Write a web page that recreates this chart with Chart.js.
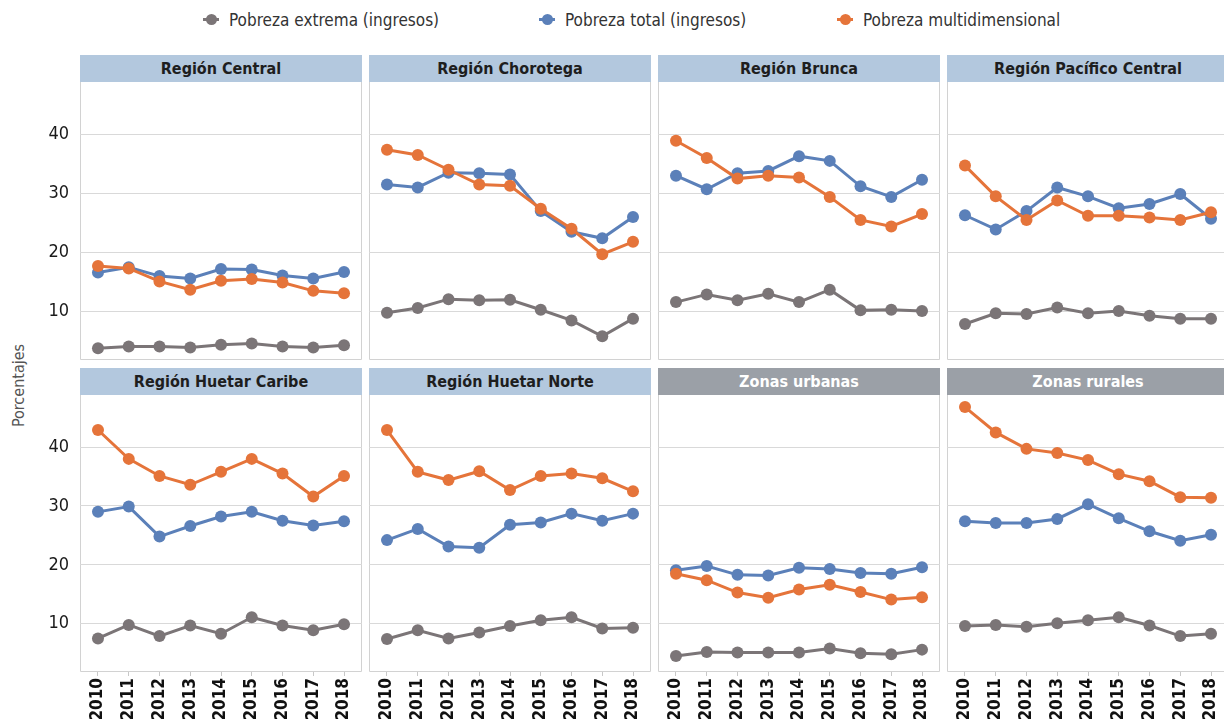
<!DOCTYPE html>
<html>
<head>
<meta charset="utf-8">
<script src="https://cdn.jsdelivr.net/npm/chart.js@4.4.1/dist/chart.umd.min.js"></script>
<style>
body{margin:0;background:#fff;width:1224px;height:719px;overflow:hidden;position:relative;
  font-family:"Liberation Sans Narrow","DejaVu Sans Condensed",sans-serif;}
.item{position:absolute;top:8px;font-size:17px;color:#333;white-space:nowrap;line-height:24px}
.mk{position:absolute;left:-26px;top:10px;width:16px;height:3px}
.mk i{position:absolute;left:3px;top:-4px;width:11px;height:11px;border-radius:50%;background:inherit}
.hdr{position:absolute;width:282px;height:27px;line-height:27px;text-align:center;font-weight:bold;font-size:16px;color:#1e1e1e}
.box{position:absolute;overflow:hidden}
.box canvas{display:block}
#ytitle{position:absolute;left:-27px;top:376px;width:90px;text-align:center;font-size:16px;color:#555;transform:rotate(-90deg)}
</style>
</head>
<body>
<div id="leyenda"></div>
<div id="ytitle">Porcentajes</div>
<div id="paneles"></div>
<script>
// datos
var years = [2010, 2011, 2012, 2013, 2014, 2015, 2016, 2017, 2018];
var panelNames = ["Región Central", "Región Chorotega", "Región Brunca", "Región Pacífico Central",
                  "Región Huetar Caribe", "Región Huetar Norte", "Zonas urbanas", "Zonas rurales"];
var seriesNames = ["Pobreza extrema (ingresos)", "Pobreza total (ingresos)", "Pobreza multidimensional"];
var seriesColors = ["#7b7577", "#5b80b9", "#e5743a"];
var yTicks = [10, 20, 30, 40];

// una fila por panel, en el mismo orden que panelNames
var pobrezaExtrema = [
  [3.8, 4.1, 4.1, 3.9, 4.4, 4.6, 4.1, 3.9, 4.3],
  [9.8, 10.6, 12.1, 11.9, 12.0, 10.3, 8.5, 5.8, 8.8],
  [11.6, 12.9, 11.9, 13.0, 11.6, 13.7, 10.2, 10.3, 10.1],
  [7.9, 9.7, 9.6, 10.7, 9.7, 10.1, 9.3, 8.8, 8.8],
  [7.5, 9.8, 7.9, 9.7, 8.3, 11.1, 9.7, 8.9, 9.9],
  [7.4, 8.9, 7.5, 8.5, 9.6, 10.6, 11.1, 9.2, 9.3],
  [4.5, 5.2, 5.1, 5.1, 5.1, 5.8, 5.0, 4.8, 5.6],
  [9.6, 9.8, 9.5, 10.1, 10.6, 11.1, 9.7, 7.9, 8.3]
];
var pobrezaTotal = [
  [16.6, 17.5, 16.0, 15.6, 17.2, 17.1, 16.1, 15.6, 16.7],
  [31.5, 31.0, 33.5, 33.4, 33.2, 27.0, 23.5, 22.4, 26.0],
  [33.0, 30.7, 33.4, 33.8, 36.3, 35.5, 31.2, 29.4, 32.3],
  [26.3, 23.9, 27.0, 31.0, 29.5, 27.5, 28.2, 29.9, 25.7],
  [29.0, 29.9, 24.8, 26.6, 28.2, 29.0, 27.5, 26.7, 27.4],
  [24.2, 26.1, 23.1, 22.9, 26.8, 27.2, 28.7, 27.5, 28.7],
  [19.1, 19.8, 18.3, 18.2, 19.5, 19.3, 18.6, 18.5, 19.6],
  [27.4, 27.1, 27.1, 27.8, 30.3, 27.9, 25.7, 24.1, 25.1]
];
var pobrezaMulti = [
  [17.7, 17.3, 15.1, 13.7, 15.2, 15.5, 14.9, 13.5, 13.1],
  [37.4, 36.5, 34.0, 31.5, 31.3, 27.4, 24.0, 19.7, 21.8],
  [38.9, 36.0, 32.5, 33.0, 32.7, 29.4, 25.5, 24.4, 26.5],
  [34.7, 29.5, 25.5, 28.8, 26.2, 26.2, 25.9, 25.5, 26.8],
  [42.9, 38.0, 35.1, 33.6, 35.8, 38.0, 35.5, 31.6, 35.1],
  [42.9, 35.8, 34.4, 35.9, 32.7, 35.1, 35.5, 34.7, 32.5],
  [18.5, 17.4, 15.3, 14.4, 15.8, 16.6, 15.4, 14.1, 14.5],
  [46.8, 42.5, 39.7, 39.0, 37.8, 35.4, 34.2, 31.5, 31.4]
];

var FONT = '"Liberation Sans Narrow","DejaVu Sans Condensed",sans-serif';
var colLeft = [80, 369, 658, 947];
var rowHeader = [55, 368];

// leyenda
var legX = [229, 565, 863];
var leg = document.getElementById('leyenda');
for (var s = 0; s < 3; s++) {
  var it = document.createElement('div');
  it.className = 'item';
  it.style.left = legX[s] + 'px';
  it.innerHTML = '<span class="mk" style="background:' + seriesColors[s] + '"><i></i></span>' + seriesNames[s];
  leg.appendChild(it);
}

// marco gris alrededor del area de trazado
var marco = {
  id: 'marco',
  beforeDraw: function(chart) {
    var a = chart.chartArea, c = chart.ctx;
    c.save();
    c.strokeStyle = '#d2d2d2';
    c.lineWidth = 1;
    c.beginPath();
    c.moveTo(Math.round(a.left) + 0.5, a.top);
    c.lineTo(Math.round(a.left) + 0.5, Math.round(a.bottom) - 0.5);
    c.lineTo(Math.round(a.right) - 0.5, Math.round(a.bottom) - 0.5);
    c.lineTo(Math.round(a.right) - 0.5, a.top);
    c.stroke();
    c.restore();
  }
};

function sinPadding(sc) {
  sc.paddingLeft = 0; sc.paddingRight = 0; sc.paddingTop = 0; sc.paddingBottom = 0;
}

var cont = document.getElementById('paneles');
for (var p = 0; p < 8; p++) {
  var row = Math.floor(p / 4), col = p % 4;
  var zona = p >= 6;

  var h = document.createElement('div');
  h.className = 'hdr';
  h.style.left = colLeft[col] + 'px';
  h.style.top = rowHeader[row] + 'px';
  h.style.background = zona ? '#9ba0a7' : '#b3c8de';
  h.style.color = zona ? '#fff' : '#1e1e1e';
  h.textContent = panelNames[p];
  cont.appendChild(h);

  var w = col === 0 ? 362 : 282;
  var ht = row === 0 ? 278 : 324;
  var box = document.createElement('div');
  box.className = 'box';
  box.style.left = (col === 0 ? 0 : colLeft[col]) + 'px';
  box.style.top = (rowHeader[row] + 27) + 'px';
  box.style.width = w + 'px';
  box.style.height = ht + 'px';
  var cv = document.createElement('canvas');
  cv.width = w; cv.height = ht;
  box.appendChild(cv);
  cont.appendChild(box);

  var sets = [pobrezaExtrema[p], pobrezaTotal[p], pobrezaMulti[p]];
  var datasets = [];
  for (var s = 0; s < 3; s++) {
    datasets.push({
      label: seriesNames[s],
      data: years.map(function(yr, i) { return { x: yr, y: this[i] }; }, sets[s]),
      borderColor: seriesColors[s],
      backgroundColor: seriesColors[s],
      borderWidth: 3,
      pointRadius: 6,
      pointHoverRadius: 6,
      pointBorderWidth: 0,
      order: 2 - s
    });
  }

  new Chart(cv, {
    type: 'line',
    data: { datasets: datasets },
    options: {
      responsive: false,
      animation: false,
      layout: { padding: 0, autoPadding: false },
      plugins: { legend: { display: false }, tooltip: { enabled: false } },
      scales: {
        x: {
          type: 'linear',
          min: 2009.415,
          max: 2018.585,
          display: row === 1,
          afterBuildTicks: function(sc) { sc.ticks = years.map(function(v) { return { value: v }; }); },
          afterFit: (function(r) { return function(sc) { sc.height = r === 1 ? 47 : 0; sinPadding(sc); }; })(row),
          grid: { drawOnChartArea: false, drawTicks: true, tickLength: 4, color: '#c8c8c8' },
          border: { display: false },
          ticks: {
            minRotation: 90, maxRotation: 90, padding: 2, color: '#111',
            font: { family: FONT, size: 17, weight: 'bold' },
            callback: function(v) { return String(v); }
          }
        },
        y: {
          min: 1.8,
          max: 48.85,
          afterBuildTicks: function(sc) { sc.ticks = yTicks.map(function(v) { return { value: v }; }); },
          afterFit: (function(c) { return function(sc) { sc.width = c === 0 ? 80 : 0; sinPadding(sc); }; })(col),
          grid: { color: '#d9d9d9', lineWidth: 1, drawTicks: false },
          border: { display: false },
          ticks: {
            display: col === 0, padding: 11, color: '#1a1a1a',
            font: { family: FONT, size: 18 }
          }
        }
      }
    },
    plugins: [marco]
  });
}
</script>
</body>
</html>
